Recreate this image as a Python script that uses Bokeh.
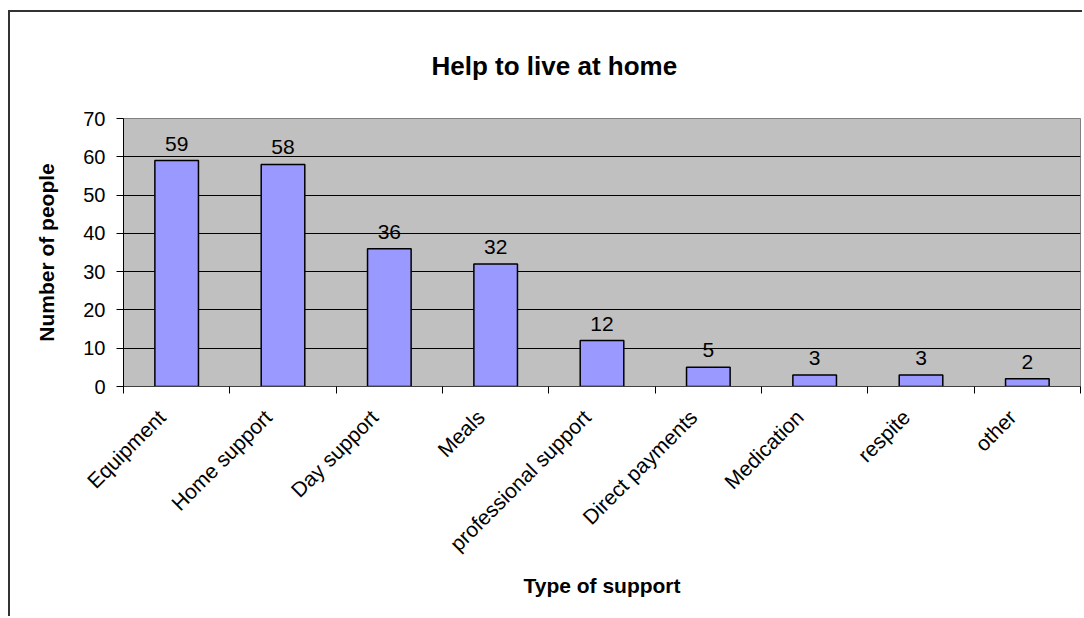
from bokeh.plotting import figure
from bokeh.models import Range1d, FixedTicker, Title
from bokeh.core.properties import value
from bokeh.embed import file_html
from bokeh.resources import INLINE

categories = ["Equipment", "Home support", "Day support", "Meals",
              "professional support", "Direct payments", "Medication",
              "respite", "other"]
values = [59, 58, 36, 32, 12, 5, 3, 3, 2]
y_ticks = [0, 10, 20, 30, 40, 50, 60, 70]
title_text = "Help to live at home"

FONT = "Liberation Sans"

xs = [i + 0.5 for i in range(len(categories))]
label_pos = [i + 0.36 for i in range(len(categories))]
bounds = list(range(len(categories) + 1))

p = figure(width=1074, height=606, output_backend="svg", toolbar_location=None,
           x_range=Range1d(0, len(categories)), y_range=Range1d(0, 70),
           min_border_left=113, min_border_top=106, min_border_right=4,
           min_border_bottom=232)
p.styles = {"margin-left": "8px", "margin-top": "10px",
            "border-left": "2px solid #333333", "border-top": "2px solid #333333"}

p.background_fill_color = "#C0C0C0"
p.border_fill_color = "white"
p.outline_line_color = "#808080"
p.outline_line_width = 1

p.vbar(x=xs, top=values, width=0.41, fill_color="#9999FF",
       line_color="black", line_width=1.5)

p.text(x=xs, y=values, text=[str(v) for v in values], text_align="center",
       text_baseline="alphabetic", y_offset=-17, text_font=value(FONT),
       text_font_size="21px", text_color="black")

# grid
p.xgrid.grid_line_color = None
p.ygrid.grid_line_color = "black"
p.ygrid.grid_line_width = 1
p.ygrid.ticker = FixedTicker(ticks=y_ticks)

# y axis
p.yaxis.ticker = FixedTicker(ticks=y_ticks)
p.yaxis.axis_label = "Number of people"
p.yaxis.axis_label_text_font = FONT
p.yaxis.axis_label_text_font_style = "bold"
p.yaxis.axis_label_text_font_size = "21px"
p.yaxis.axis_label_text_color = "black"
p.yaxis.axis_label_standoff = 22
p.yaxis.major_label_text_font = FONT
p.yaxis.major_label_text_font_size = "20px"
p.yaxis.major_label_text_color = "black"
p.yaxis.major_label_standoff = 11
p.yaxis.major_tick_out = 7
p.yaxis.major_tick_in = 0
p.yaxis.minor_tick_out = 0
p.yaxis.minor_tick_in = 0
p.yaxis.axis_line_color = "black"
p.yaxis.major_tick_line_color = "black"

# x axis
p.xaxis.ticker = FixedTicker(ticks=label_pos, minor_ticks=bounds)
p.xaxis.major_label_overrides = {x: c for x, c in zip(label_pos, categories)}
p.xaxis.major_label_orientation = 0.785398
p.xaxis.major_label_text_font = FONT
p.xaxis.major_label_text_font_size = "21px"
p.xaxis.major_label_text_color = "black"
p.xaxis.major_label_standoff = 20
p.xaxis.major_tick_out = 0
p.xaxis.major_tick_in = 0
p.xaxis.minor_tick_out = 7
p.xaxis.minor_tick_in = 0
p.xaxis.minor_tick_line_color = "black"
p.xaxis.axis_line_color = "#404040"
p.xaxis.axis_label = "Type of support"
p.xaxis.axis_label_text_font = FONT
p.xaxis.axis_label_text_font_style = "bold"
p.xaxis.axis_label_text_font_size = "21px"
p.xaxis.axis_label_text_color = "black"
p.xaxis.axis_label_standoff = 8

p.title = Title(text=title_text, align="left", offset=308, vertical_align="top",
                standoff=72, text_font=FONT, text_font_style="bold",
                text_font_size="26px", text_color="black")

open("out.html", "w").write(file_html(p, INLINE))
